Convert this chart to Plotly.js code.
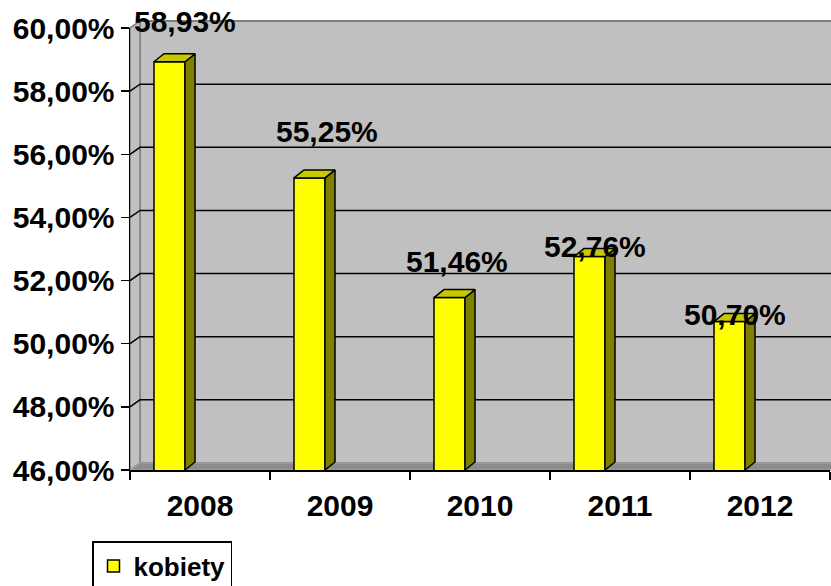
<!DOCTYPE html>
<html>
<head>
<meta charset="utf-8">
<script src="https://cdn.plot.ly/plotly-3.0.1.min.js"></script>
<style>html,body{margin:0;padding:0;background:#fff;}#chart{width:831px;height:586px;}</style>
</head>
<body>
<div id="chart"></div>
<script>
// ---- data ----
var categories = ['2008', '2009', '2010', '2011', '2012'];
var values = [58.93, 55.25, 51.46, 52.76, 50.70];
var seriesName = 'kobiety';
var yTicks = [46, 48, 50, 52, 54, 56, 58, 60];
var yTickLabels = ['46,00%', '48,00%', '50,00%', '52,00%', '54,00%', '56,00%', '58,00%', '60,00%'];

// ---- layout constants (positions / styles) ----
var W = 831, H = 586;
var M = {l: 130, r: 1, t: 28, b: 116};
var plotW = W - M.l - M.r, plotH = H - M.t - M.b;
var yMin = yTicks[0], yMax = yTicks[yTicks.length - 1];
var wallDX = 10, wallDY = 7;       // depth of walls in px
var barDX = 10, barDY = 8;         // depth of bars in px
var catPx = plotW / categories.length;
var barOffset = -(catPx / 2 - 24) / catPx;
var barWidth = 31 / catPx;
var labelXShift = [-15, -13, -23, -25, -25];
var labelYShift = [40, 46, 36, 10, 7];
var fontFam = 'Liberation Sans, Arial, Helvetica, sans-serif';

function fmt(v) { return v.toFixed(2).replace('.', ',') + '%'; }

// 3D faces of the bars, computed from the data values through the axis scale
var dXd = barDX / catPx;
var dYd = barDY * (yMax - yMin) / plotH;
var sideX = [], sideY = [], topX = [], topY = [];
values.forEach(function (v, i) {
  var xl = i + barOffset, xr = xl + barWidth;
  sideX.push(xr, xr + dXd, xr + dXd, xr, xr, null);
  sideY.push(yMin, yMin + dYd, v + dYd, v, yMin, null);
  topX.push(xl, xl + dXd, xr + dXd, xr, xl, null);
  topY.push(v, v + dYd, v + dYd, v, v, null);
});

var traces = [
  {
    type: 'bar', name: seriesName, x: categories, y: values,
    offset: barOffset, width: barWidth,
    marker: {color: '#ffff00', line: {color: '#000000', width: 1.5}},
    hoverinfo: 'x+y'
  },
  {
    type: 'scatter', mode: 'lines', x: sideX, y: sideY, xaxis: 'x2', yaxis: 'y',
    fill: 'toself', fillcolor: '#808000', line: {color: '#000000', width: 1.5},
    showlegend: false, hoverinfo: 'skip'
  },
  {
    type: 'scatter', mode: 'lines', x: topX, y: topY, xaxis: 'x2', yaxis: 'y',
    fill: 'toself', fillcolor: '#c8c800', line: {color: '#000000', width: 1.5},
    showlegend: false, hoverinfo: 'skip'
  }
];

var shapes = [];
// back wall
shapes.push({type: 'rect', layer: 'below', xref: 'paper', yref: 'paper',
  xsizemode: 'pixel', ysizemode: 'pixel', xanchor: 0, yanchor: 0,
  x0: wallDX, x1: plotW + 2, y0: wallDY, y1: plotH + wallDY,
  fillcolor: '#c0c0c0', line: {color: '#808080', width: 2}});
// side wall
shapes.push({type: 'path', layer: 'below', xref: 'paper', yref: 'paper',
  xsizemode: 'pixel', ysizemode: 'pixel', xanchor: 0, yanchor: 0,
  path: 'M0,0 L' + wallDX + ',' + wallDY + ' L' + wallDX + ',' + (plotH + wallDY) + ' L0,' + plotH + ' Z',
  fillcolor: '#c0c0c0', line: {color: '#808080', width: 1.5}});
// floor
shapes.push({type: 'path', layer: 'below', xref: 'paper', yref: 'paper',
  xsizemode: 'pixel', ysizemode: 'pixel', xanchor: 0, yanchor: 0,
  path: 'M0,0 L' + wallDX + ',' + wallDY + ' L' + (plotW + 2) + ',' + wallDY + ' L' + (plotW + 2) + ',0 Z',
  fillcolor: '#8c8c8c', line: {color: '#a0a0a0', width: 1.5}});
// gridlines on the back wall with diagonal connectors across the side wall
yTicks.forEach(function (t) {
  if (t === yMin || t === yMax) return;
  shapes.push({type: 'path', layer: 'below', xref: 'paper', yref: 'y',
    xsizemode: 'pixel', ysizemode: 'pixel', xanchor: 0, yanchor: t,
    path: 'M0,0 L' + wallDX + ',' + wallDY + ' L' + (plotW + 2) + ',' + wallDY,
    line: {color: '#000000', width: 1.5}});
});

var annotations = values.map(function (v, i) {
  return {x: i, y: v, xref: 'x', yref: 'y', text: fmt(v),
    showarrow: false, xanchor: 'center', yanchor: 'middle',
    xshift: labelXShift[i], yshift: labelYShift[i],
    font: {family: fontFam, size: 30, weight: 'bold', color: '#000000'}};
});

var layout = {
  width: W, height: H,
  margin: {l: M.l, r: M.r, t: M.t, b: M.b, autoexpand: false},
  paper_bgcolor: '#ffffff', plot_bgcolor: 'rgba(0,0,0,0)',
  font: {family: fontFam, size: 30, weight: 'bold', color: '#000000'},
  xaxis: {
    type: 'category', range: [-0.5, categories.length - 0.5], autorange: false,
    showline: true, linecolor: '#000000', linewidth: 1.5,
    ticks: 'outside', tickson: 'boundaries', ticklen: 8, tickwidth: 1.5, tickcolor: '#000000',
    ticklabelstandoff: 8,
    showgrid: false, zeroline: false, fixedrange: true,
    tickfont: {family: fontFam, size: 30, weight: 'bold', color: '#000000'}
  },
  xaxis2: {
    overlaying: 'x', anchor: 'y', range: [-0.5, categories.length - 0.5], autorange: false,
    visible: false, fixedrange: true
  },
  yaxis: {
    range: [yMin, yMax], autorange: false,
    tickvals: yTicks, ticktext: yTickLabels,
    showline: true, linecolor: '#000000', linewidth: 1.5,
    ticks: 'outside', ticklen: 8, tickwidth: 1.5, tickcolor: '#000000',
    showgrid: false, zeroline: false, fixedrange: true,
    tickfont: {family: fontFam, size: 30, weight: 'bold', color: '#000000'}
  },
  showlegend: true,
  legend: {
    x: (92 - M.l) / plotW, xanchor: 'left',
    y: -(541 - (M.t + plotH)) / plotH, yanchor: 'top',
    bgcolor: '#ffffff', bordercolor: '#000000', borderwidth: 1.5,
    font: {family: fontFam, size: 26, weight: 'bold', color: '#000000'},
    itemwidth: 30
  },
  shapes: shapes,
  annotations: annotations
};

Plotly.newPlot('chart', traces, layout, {displayModeBar: false, staticPlot: true});
</script>
</body>
</html>
